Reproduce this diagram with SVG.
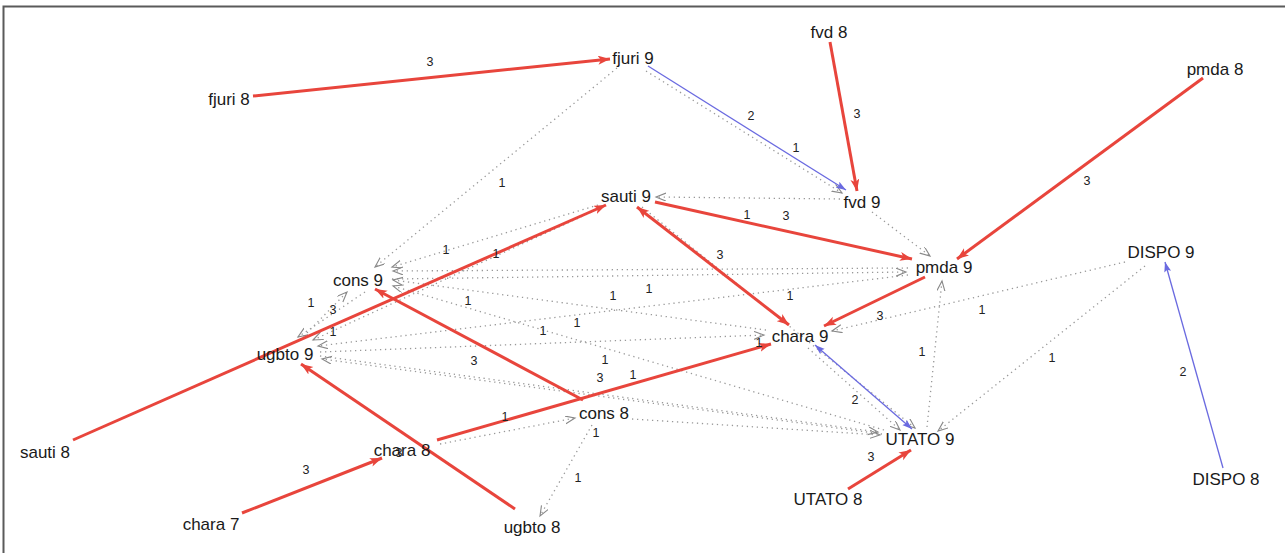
<svg xmlns="http://www.w3.org/2000/svg" width="1285" height="553" viewBox="0 0 1285 553">
<defs>
<marker id="ar" markerUnits="userSpaceOnUse" markerWidth="14" markerHeight="10" refX="12" refY="4.5" orient="auto-start-reverse"><path d="M0,0 L12,4.5 L0,9 L3,4.5 z" fill="#e8453c"/></marker>
<marker id="ab" markerUnits="userSpaceOnUse" markerWidth="12" markerHeight="9" refX="10" refY="3.5" orient="auto-start-reverse"><path d="M0,0 L10,3.5 L0,7 L2,3.5 z" fill="#6a6ae0"/></marker>
<marker id="ag" markerUnits="userSpaceOnUse" markerWidth="12" markerHeight="10" refX="10" refY="4" orient="auto"><path d="M0,0 L10,4 L0,8" fill="none" stroke="#888" stroke-width="1.1"/></marker>
</defs>
<style>
.n{font-family:"Liberation Sans",Arial,sans-serif;font-size:17px;fill:#1a1a1a;text-anchor:middle}
.l{font-family:"Liberation Sans",Arial,sans-serif;font-size:12.5px;fill:#222;text-anchor:middle}
.r{stroke:#e8453c;stroke-width:3;fill:none;marker-end:url(#ar)}
.b{stroke:#6a6ae0;stroke-width:1.3;fill:none;marker-end:url(#ab)}
.d{stroke:#999;stroke-width:1.3;stroke-dasharray:1.3,3.7;fill:none;marker-end:url(#ag)}
</style>
<rect width="1285" height="553" fill="#fff"/>
<path d="M3.5,553 L3.5,6.5 L1285,6.5" fill="none" stroke="#5a5a5a" stroke-width="2"/>
<g id="connectors">
<path class="d" d="M617,68 L375,267"/>
<path class="d" d="M646,71 L842,193"/>
<path class="d" d="M840,199 L656,197"/>
<path class="d" d="M872,212 L930,256"/>
<path class="d" d="M598,205 L392,267"/>
<path class="d" d="M596,210 L313,340"/>
<path class="d" d="M908,268 L393,271"/>
<path class="d" d="M392,279 L906,272"/>
<path class="d" d="M766,330 L393,280"/>
<path class="d" d="M884,430 L393,286"/>
<path class="d" d="M300,340 L347,292"/>
<path class="d" d="M365,292 L298,337"/>
<path class="d" d="M908,275 L318,346"/>
<path class="d" d="M882,434 L322,359"/>
<path class="d" d="M320,352 L764,335"/>
<path class="d" d="M320,356 L878,432"/>
<path class="d" d="M440,444 L575,418"/>
<path class="d" d="M632,419 L880,435"/>
<path class="d" d="M592,425 L540,516"/>
<path class="d" d="M808,348 L900,430"/>
<path class="d" d="M642,207 L915,428"/>
<path class="d" d="M927,427 L942,281"/>
<path class="d" d="M1125,262 L832,331"/>
<path class="d" d="M1145,266 L938,431"/>
<path class="b" d="M648,66 L846,190"/>
<path class="b" d="M815,345 L912,429" marker-start="url(#ab)"/>
<path class="b" d="M1223,468 L1165,262"/>
<path class="r" d="M253,96 L610,59"/>
<path class="r" d="M830,42 L857,191"/>
<path class="r" d="M1203,78 L957,259"/>
<path class="r" d="M73,440 L606,205"/>
<path class="r" d="M655,202 L912,259"/>
<path class="r" d="M789,325 L637,207" marker-start="url(#ar)"/>
<path class="r" d="M925,277 L824,326"/>
<path class="r" d="M583,400 L375,289"/>
<path class="r" d="M437,440 L771,344"/>
<path class="r" d="M515,509 L301,364"/>
<path class="r" d="M242,513 L382,458"/>
<path class="r" d="M848,489 L911,450"/>
<g id="edge-labels">
<text class="l" x="430" y="66">3</text>
<text class="l" x="751" y="120">2</text>
<text class="l" x="796" y="152">1</text>
<text class="l" x="857" y="118">3</text>
<text class="l" x="1087" y="185">3</text>
<text class="l" x="502" y="187">1</text>
<text class="l" x="747" y="219">1</text>
<text class="l" x="786" y="220">3</text>
<text class="l" x="446" y="254">1</text>
<text class="l" x="496" y="258">1</text>
<text class="l" x="720" y="259">3</text>
<text class="l" x="880" y="320">3</text>
<text class="l" x="982" y="314">1</text>
<text class="l" x="311" y="307">1</text>
<text class="l" x="333" y="314">3</text>
<text class="l" x="333" y="336">1</text>
<text class="l" x="468" y="305">1</text>
<text class="l" x="613" y="300">1</text>
<text class="l" x="649" y="293">1</text>
<text class="l" x="790" y="300">1</text>
<text class="l" x="543" y="335">1</text>
<text class="l" x="577" y="327">1</text>
<text class="l" x="759" y="347">1</text>
<text class="l" x="474" y="365">3</text>
<text class="l" x="605" y="364">1</text>
<text class="l" x="600" y="382">3</text>
<text class="l" x="633" y="379">1</text>
<text class="l" x="922" y="356">1</text>
<text class="l" x="1052" y="362">1</text>
<text class="l" x="1183" y="376">2</text>
<text class="l" x="855" y="404">2</text>
<text class="l" x="871" y="461">3</text>
<text class="l" x="505" y="421">1</text>
<text class="l" x="596" y="437">1</text>
<text class="l" x="578" y="482">1</text>
<text class="l" x="306" y="474">3</text>
<text class="l" x="399" y="457">3</text>
</g>
</g>
<g id="fjuri8"><text class="n" x="229" y="105">fjuri 8</text></g>
<g id="fjuri9"><text class="n" x="633" y="64">fjuri 9</text></g>
<g id="fvd8"><text class="n" x="829" y="38">fvd 8</text></g>
<g id="pmda8"><text class="n" x="1215" y="75">pmda 8</text></g>
<g id="fvd9"><text class="n" x="862" y="208">fvd 9</text></g>
<g id="sauti9"><text class="n" x="626" y="202">sauti 9</text></g>
<g id="pmda9"><text class="n" x="944" y="273">pmda 9</text></g>
<g id="chara9"><text class="n" x="800" y="342">chara 9</text></g>
<g id="cons9"><text class="n" x="358" y="286">cons 9</text></g>
<g id="ugbto9"><text class="n" x="285" y="360">ugbto 9</text></g>
<g id="cons8"><text class="n" x="604" y="419">cons 8</text></g>
<g id="chara8"><text class="n" x="402" y="456">chara 8</text></g>
<g id="ugbto8"><text class="n" x="532" y="533">ugbto 8</text></g>
<g id="chara7"><text class="n" x="211" y="530">chara 7</text></g>
<g id="sauti8"><text class="n" x="45" y="458">sauti 8</text></g>
<g id="UTATO9"><text class="n" x="920" y="445">UTATO 9</text></g>
<g id="UTATO8"><text class="n" x="828" y="505">UTATO 8</text></g>
<g id="DISPO9"><text class="n" x="1161" y="258">DISPO 9</text></g>
<g id="DISPO8"><text class="n" x="1226" y="485">DISPO 8</text></g>
</svg>
